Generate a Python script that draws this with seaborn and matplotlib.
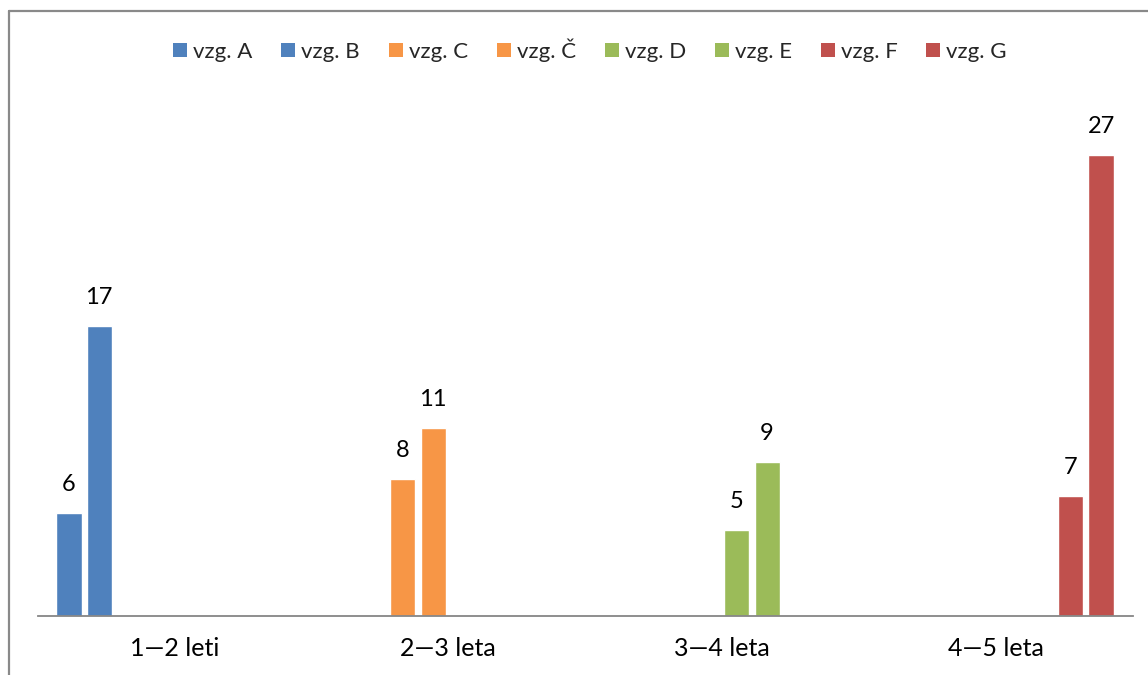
import pandas as pd
import matplotlib.pyplot as plt
import seaborn as sns
from matplotlib.patches import Patch
from matplotlib.lines import Line2D

# data
categories = ["1—2 leti", "2—3 leta", "3—4 leta", "4—5 leta"]
series = ["vzg. A", "vzg. B", "vzg. C", "vzg. Č", "vzg. D", "vzg. E", "vzg. F", "vzg. G"]
bar_category = ["1—2 leti", "1—2 leti", "2—3 leta", "2—3 leta",
                "3—4 leta", "3—4 leta", "4—5 leta", "4—5 leta"]
values = [6, 17, 8, 11, 5, 9, 7, 27]
colors = ["#4F81BD", "#4F81BD", "#F79646", "#F79646",
          "#9BBB59", "#9BBB59", "#C0504D", "#C0504D"]

df = pd.DataFrame({"kategorija": bar_category, "vzorec": series, "vrednost": values})

sns.set_theme(style="white")
plt.rcParams["font.family"] = ["Lato", "DejaVu Sans"]

fig = plt.figure(figsize=(11.48, 6.75), dpi=100)
ax = fig.add_axes([37.5 / 1148, 1 - 615.7 / 675, 1095 / 1148, 512 / 675])

sns.barplot(data=df, x="kategorija", y="vrednost", hue="vzorec",
            order=categories, hue_order=series, palette=colors,
            width=0.88, gap=0.167, saturation=1, errorbar=None,
            legend=False, ax=ax)

for c in ax.containers:
    ax.bar_label(c, fmt="%d", padding=13, fontsize=17, color="#000000")

ax.set_ylim(0, 30)
ax.set_xlim(-0.5, 3.5)
ax.set_xlabel("")
ax.set_ylabel("")
ax.set_yticks([])
ax.tick_params(axis="x", length=0, pad=15, labelsize=18, labelcolor="#000000")
for s in ["top", "right", "left"]:
    ax.spines[s].set_visible(False)
ax.spines["bottom"].set_color("#868686")
ax.spines["bottom"].set_linewidth(1.3)

handles = [Patch(facecolor=col, edgecolor="none", label=lab) for col, lab in zip(colors, series)]
fig.legend(handles=handles, loc="center", bbox_to_anchor=(590 / 1148, 1 - 50 / 675),
           ncol=8, frameon=False, fontsize=16, handlelength=0.63, handleheight=0.63,
           handletextpad=0.27, columnspacing=1.3, borderpad=0)

# outer chart frame (left and top edges visible)
fx = 8.5 / 1148
fy = 1 - 10.5 / 675
fig.add_artist(Line2D([fx, fx], [0, fy], transform=fig.transFigure, color="#898989", lw=1.6))
fig.add_artist(Line2D([fx, 1], [fy, fy], transform=fig.transFigure, color="#898989", lw=1.6))

fig.savefig("out.png", dpi=100)
